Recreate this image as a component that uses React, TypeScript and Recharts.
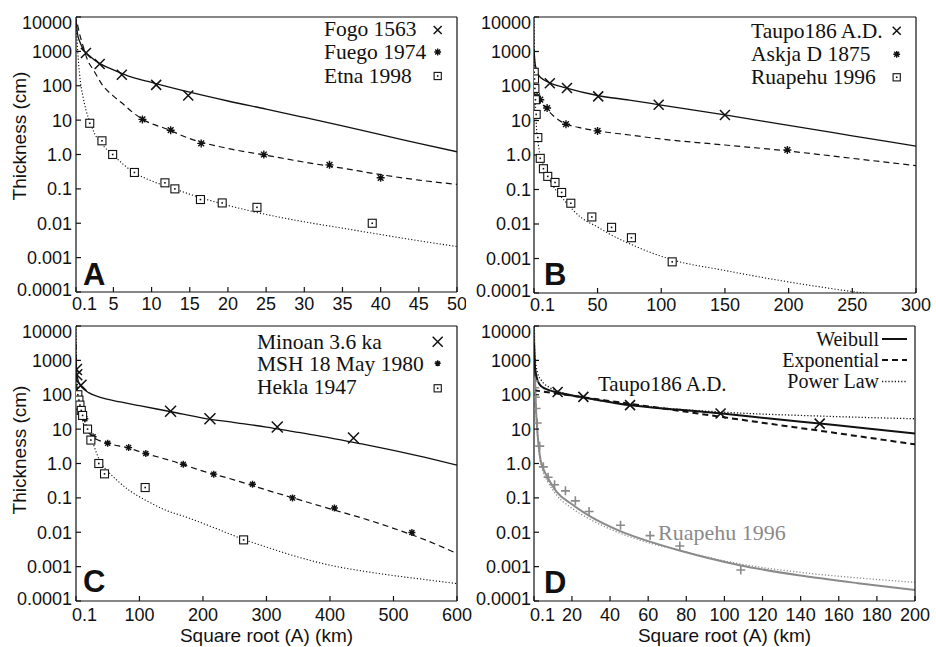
import React from "react";
import { ComposedChart, Line, Scatter, XAxis, YAxis } from "recharts";

// ---------- ticks ----------
const yTicks = [0.0001, 0.001, 0.01, 0.1, 1, 10, 100, 1000, 10000];
const yTickLabels = ["0.0001", "0.001", "0.01", "0.1", "1.0", "10", "100", "1000", "10000"];
const xTicksA = [0.1, 5, 10, 15, 20, 25, 30, 35, 40, 45, 50];
const xTicksB = [0.1, 50, 100, 150, 200, 250, 300];
const xTicksC = [0.1, 100, 200, 300, 400, 500, 600];
const xTicksD = [0.1, 20, 40, 60, 80, 100, 120, 140, 160, 180, 200];

// ---------- panel A ----------
const fogoX = [1.4, 3.2, 6.1, 10.6, 14.8];
const fogoT = [900, 430, 210, 106, 52];
const fuegoX = [8.8, 12.5, 16.5, 24.7, 33.3, 40.0];
const fuegoT = [10.5, 5.1, 2.1, 1.0, 0.5, 0.21];
const etnaX = [1.9, 3.5, 4.9, 7.75, 11.75, 13.05, 16.4, 19.25, 23.8, 38.9];
const etnaT = [8.1, 2.5, 1.0, 0.3, 0.15, 0.1, 0.049, 0.039, 0.029, 0.01];

const fogoFitX = [0.1, 0.3, 0.6, 1, 2, 3, 5, 7.5, 10, 15, 20, 25, 30, 35, 40, 45, 50];
const fogoFitT = [9000, 3200, 1900, 1200, 700, 470, 290, 175, 125, 65, 36, 21, 12, 6.8, 3.8, 2.1, 1.2];
const fuegoFitX = [0.3, 0.6, 1, 1.5, 2.5, 3.5, 5, 6, 7.5, 9, 12, 15, 20, 25, 30, 35, 40, 45, 50];
const fuegoFitT = [6000, 3000, 1500, 650, 260, 110, 50, 33, 17, 10, 5.5, 2.9, 1.5, 0.95, 0.6, 0.4, 0.26, 0.18, 0.135];
const etnaFitX = [0.1, 0.2, 0.4, 0.7, 1, 1.4, 2, 2.5, 3.5, 5, 7.5, 10, 12.5, 15, 20, 25, 30, 35, 40, 45, 50];
const etnaFitT = [10000, 3000, 600, 120, 50, 20, 8, 4.2, 2.0, 0.95, 0.32, 0.17, 0.11, 0.07, 0.033, 0.018, 0.011, 0.0072, 0.0047, 0.0031, 0.0021];

// ---------- panel B (and D) ----------
const taupoX = [12.5, 26, 50.5, 98, 150];
const taupoT = [120, 87, 50, 28.5, 14.5];
const askjaX = [2.5, 5, 10.4, 25.2, 50, 199];
const askjaT = [50, 40, 23, 7.8, 5, 1.4];
const ruapehuX = [0.3, 0.5, 0.8, 1.2, 1.8, 3.1, 5, 7.5, 10.9, 16.6, 21.8, 29, 45.5, 61, 76.6, 108.6];
const ruapehuT = [250, 160, 85, 40, 15, 3.2, 0.8, 0.4, 0.24, 0.16, 0.082, 0.04, 0.016, 0.008, 0.004, 0.0008];

const taupoFitX = [0.1, 0.5, 1, 2, 4, 8, 12, 25, 50, 75, 100, 150, 200, 250, 300];
const taupoFitT = [1200, 700, 450, 300, 200, 150, 125, 88, 53, 39, 28, 14.5, 7.2, 3.6, 1.8];
const askjaFitX = [0.1, 1, 2, 5, 10, 15, 20, 25, 35, 50, 75, 100, 150, 200, 250, 300];
const askjaFitT = [90, 60, 50, 35, 22, 14, 10, 8, 6.3, 5, 3.8, 2.9, 1.95, 1.3, 0.8, 0.49];
const ruapehuFitX = [0.1, 0.5, 1, 1.8, 3.6, 7.5, 15, 25, 37.5, 50, 60, 77, 108, 150, 180, 220, 250, 280, 300];
const ruapehuFitT = [10000, 800, 80, 9, 1.9, 0.49, 0.13, 0.043, 0.015, 0.0082, 0.005, 0.0025, 0.00093, 0.00045, 0.00028, 0.00016, 0.00011, 0.00008, 0.00006];

// ---------- panel C ----------
const minoanX = [0.8, 1.3, 8, 149, 211, 317, 437];
const minoanT = [540, 380, 190, 33, 20, 11.5, 5.5];
const mshX = [3, 14, 19, 27, 50, 83, 110, 169, 217, 278, 341, 407, 529];
const mshT = [70, 20, 10, 6, 3.9, 2.9, 1.95, 0.95, 0.49, 0.25, 0.1, 0.051, 0.0098];
const heklaX = [3, 4.7, 6.3, 8.4, 10.5, 18.3, 23.5, 36, 45, 109, 264];
const heklaT = [100, 70, 50, 35, 25, 10, 4.8, 1.0, 0.5, 0.2, 0.006];

const minoanFitX = [0.1, 1, 3, 6, 10, 20, 40, 70, 100, 150, 200, 250, 300, 350, 400, 450, 500, 550, 600];
const minoanFitT = [1200, 500, 280, 200, 160, 115, 82, 62, 48, 32, 21, 15.5, 11.5, 8, 5.6, 3.7, 2.4, 1.5, 0.9];
const mshFitX = [0.1, 1, 3, 8, 15, 25, 50, 80, 110, 150, 200, 250, 300, 350, 400, 450, 500, 550, 600];
const mshFitT = [3000, 300, 60, 22, 11, 6.3, 3.9, 2.9, 1.95, 1.2, 0.6, 0.33, 0.17, 0.09, 0.048, 0.026, 0.013, 0.006, 0.0024];
const heklaFitX = [0.1, 1, 2, 4, 7, 12, 18, 25, 32, 40, 50, 65, 85, 110, 140, 175, 220, 264, 300, 350, 400, 450, 500, 550, 600];
const heklaFitT = [10000, 700, 250, 110, 50, 22, 11, 5, 2.1, 1.0, 0.6, 0.32, 0.16, 0.085, 0.045, 0.027, 0.013, 0.0062, 0.0037, 0.0019, 0.0011, 0.00075, 0.00055, 0.00042, 0.00032];

// ---------- panel D model fits ----------
const taupoWeibullX = [0.1, 0.5, 1, 2, 4, 6, 11, 25, 50, 75, 100, 125, 150, 175, 200];
const taupoWeibullT = [3000, 800, 450, 260, 175, 150, 122, 86, 50, 37, 28, 20, 14.5, 10.5, 7.4];
const taupoExpX = [0.1, 25, 50, 75, 100, 125, 150, 175, 200];
const taupoExpT = [135, 86, 55, 35, 22, 14, 9, 5.7, 3.6];
const taupoPowX = [0.1, 0.5, 1, 2, 4, 8, 12, 25, 50, 100, 150, 200];
const taupoPowT = [12000, 1500, 800, 430, 260, 165, 130, 85, 52, 31, 24, 20];
const ruapehuModelX = [0.1, 0.5, 1, 1.6, 2.5, 3.3, 5, 7, 12, 20, 30, 45, 60, 76, 108, 140, 170, 200];
const ruapehuWeibullT = [10000, 600, 60, 14, 3.5, 1.5, 0.7, 0.42, 0.15, 0.065, 0.028, 0.011, 0.0055, 0.003, 0.0011, 0.00055, 0.00033, 0.00021];
const ruapehuPowT = [10000, 500, 50, 11, 3, 1.2, 0.55, 0.32, 0.12, 0.05, 0.023, 0.0095, 0.005, 0.003, 0.0012, 0.00068, 0.00047, 0.00035];

// ---------- styling ----------
const INK = "#111";
const GRAY = "#8a8a8a";
const SANS = "'Liberation Sans', Arial, Helvetica, sans-serif";
const SERIF = "'Liberation Serif', 'Times New Roman', serif";

type Pt = { x: number; y: number };
type Shape = (cx: number, cy: number) => React.ReactElement;
const pts = (xs: number[], ys: number[]): Pt[] => xs.map((x, i) => ({ x, y: ys[i] }));

const cross = (s: number, color = INK, w = 1.5): Shape => (cx, cy) => (
  <path
    d={`M${cx - s},${cy - s}L${cx + s},${cy + s}M${cx - s},${cy + s}L${cx + s},${cy - s}`}
    stroke={color}
    strokeWidth={w}
    fill="none"
  />
);
const star = (s: number): Shape => (cx, cy) => {
  const d = s * 0.72;
  return (
    <path
      d={`M${cx - s},${cy}H${cx + s}M${cx},${cy - s}V${cy + s}M${cx - d},${cy - d}L${cx + d},${cy + d}M${cx - d},${cy + d}L${cx + d},${cy - d}`}
      stroke={INK}
      strokeWidth={1.4}
      fill="none"
    />
  );
};
const box = (s: number): Shape => (cx, cy) => (
  <g>
    <rect x={cx - s} y={cy - s} width={2 * s} height={2 * s} fill="#fff" stroke={INK} strokeWidth={1.1} />
    <rect x={cx - 0.8} y={cy - 0.8} width={1.6} height={1.6} fill={INK} />
  </g>
);
const plus = (s: number): Shape => (cx, cy) => (
  <path d={`M${cx - s},${cy}H${cx + s}M${cx},${cy - s}V${cy + s}`} stroke={GRAY} strokeWidth={1.6} fill="none" />
);

const renderXTick = (p: any) => {
  const first = p.index === 0;
  return (
    <text
      x={first ? p.x - 4 : p.x}
      y={p.y}
      dy="0.72em"
      textAnchor={first ? "start" : "middle"}
      fontSize={18}
      fontFamily={SANS}
      fill={INK}
    >
      {String(p.payload.value)}
    </text>
  );
};

const renderYTick = (p: any) => {
  const v = p.payload.value;
  let i = 0;
  yTicks.forEach((t, k) => {
    if (Math.abs(Math.log10(t) - Math.log10(v)) < 0.01) i = k;
  });
  const shift = i === yTicks.length - 1 ? 6 : i === 0 ? -2 : 0;
  return (
    <text x={p.x} y={p.y + shift} dy="0.36em" textAnchor="end" fontSize={18} fontFamily={SANS} fill={INK}>
      {yTickLabels[i]}
    </text>
  );
};

interface Curve { data: Pt[]; stroke: string; width: number; dash?: string }
interface Marks { data: Pt[]; shape: Shape }
interface PanelProps {
  left: number; top: number; width: number; height: number;
  leftW: number; rightW: number; topH: number; bottomH: number;
  xMax: number; xTicks: number[]; yMargin: number; xMargin: number;
  curves: Curve[]; marks: Marks[];
}

function Panel(props: PanelProps) {
  const { left, top, width, height, leftW, rightW, topH, bottomH, xMax, xTicks, yMargin, xMargin, curves, marks } = props;
  const axisLine = { stroke: INK, strokeWidth: 1.2 };
  return (
    <div style={{ position: "absolute", left, top, width, height }}>
      <ComposedChart width={width} height={height} margin={{ top: 0, right: 0, bottom: 0, left: 0 }}>
        <XAxis
          xAxisId="b" dataKey="x" type="number" domain={[0.1, xMax]} ticks={xTicks} interval={0}
          allowDataOverflow height={bottomH} tickSize={-5} tickMargin={xMargin} tick={renderXTick}
          axisLine={axisLine} tickLine={axisLine}
        />
        <XAxis
          xAxisId="t" orientation="top" dataKey="x" type="number" domain={[0.1, xMax]} ticks={xTicks} interval={0}
          allowDataOverflow height={topH} tickSize={-5} tick={false} axisLine={axisLine} tickLine={axisLine}
        />
        <YAxis
          yAxisId="l" dataKey="y" type="number" scale="log" domain={[0.0001, 10000]} ticks={yTicks} interval={0}
          allowDataOverflow width={leftW} tickSize={-5} tickMargin={yMargin} tick={renderYTick}
          axisLine={axisLine} tickLine={axisLine}
        />
        <YAxis
          yAxisId="r" orientation="right" dataKey="y" type="number" scale="log" domain={[0.0001, 10000]} ticks={yTicks}
          interval={0} allowDataOverflow width={rightW} tickSize={-5} tick={false} axisLine={axisLine} tickLine={axisLine}
        />
        {curves.map((c, i) => (
          <Line
            key={"c" + i} xAxisId="b" yAxisId="l" data={c.data} dataKey="y" type="monotone"
            stroke={c.stroke} strokeWidth={c.width} strokeDasharray={c.dash} dot={false} activeDot={false}
            isAnimationActive={false}
          />
        ))}
        {marks.map((m, i) => (
          <Scatter
            key={"m" + i} xAxisId="b" yAxisId="l" data={m.data} dataKey="y"
            shape={(p: any) => m.shape(p.cx, p.cy)} isAnimationActive={false}
          />
        ))}
      </ComposedChart>
    </div>
  );
}

const solid = (data: Pt[], stroke = INK, width = 1.3): Curve => ({ data, stroke, width });
const dashed = (data: Pt[], stroke = INK, width = 1.2): Curve => ({ data, stroke, width, dash: "6 4" });
const dotted = (data: Pt[], stroke = INK, width = 1.1): Curve => ({ data, stroke, width, dash: "1.2 2" });

export default function App() {
  const legendText = { fontFamily: SERIF, fontSize: 21.5, fill: INK } as const;
  const letter = { fontFamily: SANS, fontSize: 31, fontWeight: 700, fill: INK } as const;
  const title = { fontFamily: SANS, fontSize: 19, fill: INK } as const;
  return (
    <div style={{ position: "absolute", left: 0, top: 0, width: 936, height: 647, background: "#fff" }}>
      <Panel
        left={0} top={0} width={466} height={320} leftW={76} rightW={9} topH={17} bottomH={28}
        xMax={50} xTicks={xTicksA} yMargin={9} xMargin={10}
        curves={[solid(pts(fogoFitX, fogoFitT)), dashed(pts(fuegoFitX, fuegoFitT)), dotted(pts(etnaFitX, etnaFitT))]}
        marks={[
          { data: pts(fogoX, fogoT), shape: cross(5) },
          { data: pts(fuegoX, fuegoT), shape: star(4) },
          { data: pts(etnaX, etnaT), shape: box(4) },
        ]}
      />
      <Panel
        left={466} top={0} width={470} height={320} leftW={68} rightW={20} topH={17} bottomH={27}
        xMax={300} xTicks={xTicksB} yMargin={8} xMargin={10}
        curves={[solid(pts(taupoFitX, taupoFitT)), dashed(pts(askjaFitX, askjaFitT)), dotted(pts(ruapehuFitX, ruapehuFitT))]}
        marks={[
          { data: pts(taupoX, taupoT), shape: cross(5) },
          { data: pts(askjaX, askjaT), shape: star(4) },
          { data: pts(ruapehuX, ruapehuT), shape: box(4) },
        ]}
      />
      <Panel
        left={0} top={320} width={480} height={327} leftW={76} rightW={23} topH={6} bottomH={46}
        xMax={600} xTicks={xTicksC} yMargin={9} xMargin={12}
        curves={[solid(pts(minoanFitX, minoanFitT)), dashed(pts(mshFitX, mshFitT)), dotted(pts(heklaFitX, heklaFitT))]}
        marks={[
          { data: pts(minoanX, minoanT), shape: cross(5.5) },
          { data: pts(mshX, mshT), shape: star(3.5) },
          { data: pts(heklaX, heklaT), shape: box(4) },
        ]}
      />
      <Panel
        left={466} top={320} width={470} height={327} leftW={68} rightW={21} topH={6} bottomH={46}
        xMax={200} xTicks={xTicksD} yMargin={8} xMargin={12}
        curves={[
          solid(pts(ruapehuModelX, ruapehuWeibullT), GRAY, 2),
          dotted(pts(ruapehuModelX, ruapehuPowT), GRAY, 1.3),
          dotted(pts(taupoPowX, taupoPowT), INK, 1.3),
          dashed(pts(taupoExpX, taupoExpT), INK, 2),
          solid(pts(taupoWeibullX, taupoWeibullT), INK, 2),
        ]}
        marks={[
          { data: pts(ruapehuX, ruapehuT), shape: plus(4.5) },
          { data: pts(taupoX, taupoT), shape: cross(5, INK, 1.6) },
        ]}
      />

      <svg width={936} height={647} style={{ position: "absolute", left: 0, top: 0, pointerEvents: "none" }}>
        {/* axis titles */}
        <text transform="translate(26,136) rotate(-90)" textAnchor="middle" {...title}>Thickness (cm)</text>
        <text transform="translate(26,450) rotate(-90)" textAnchor="middle" {...title}>Thickness (cm)</text>
        <text x={266.5} y={642} textAnchor="middle" {...title}>Square root (A) (km)</text>
        <text x={724.5} y={642} textAnchor="middle" {...title}>Square root (A) (km)</text>

        {/* panel letters */}
        <text x={83} y={285} {...letter}>A</text>
        <text x={544} y={285} {...letter}>B</text>
        <text x={83} y={592} {...letter}>C</text>
        <text x={544} y={593} {...letter}>D</text>

        {/* legend A */}
        <text x={324} y={36} {...legendText}>Fogo 1563</text>
        <text x={324} y={58.5} {...legendText}>Fuego 1974</text>
        <text x={324} y={82.5} {...legendText}>Etna 1998</text>
        {cross(4)(437.7, 30)}
        {star(3.4)(437.7, 52)}
        {box(3.6)(437.7, 76)}

        {/* legend B */}
        <text x={751} y={38} {...legendText}>Taupo186 A.D.</text>
        <text x={751} y={61} {...legendText}>Askja D 1875</text>
        <text x={751} y={83.5} {...legendText}>Ruapehu 1996</text>
        {cross(4)(896.7, 30.7)}
        {star(3.4)(896.7, 54.3)}
        {box(3.6)(896.7, 77.3)}

        {/* legend C */}
        <text x={257} y={349} {...legendText}>Minoan 3.6 ka</text>
        <text x={257} y={370.6} {...legendText}>MSH 18 May 1980</text>
        <text x={257} y={394} {...legendText}>Hekla 1947</text>
        {cross(5)(437.7, 341.7)}
        {star(3)(437.7, 363.3)}
        {box(3.6)(437.7, 388.3)}

        {/* legend D */}
        <text x={879} y={346} textAnchor="end" {...legendText} fontSize={20}>Weibull</text>
        <text x={879} y={367} textAnchor="end" {...legendText} fontSize={20}>Exponential</text>
        <text x={879} y={388} textAnchor="end" {...legendText} fontSize={20}>Power Law</text>
        <line x1={882} x2={907} y1={339} y2={339} stroke={INK} strokeWidth={2} />
        <line x1={882} x2={907} y1={360} y2={360} stroke={INK} strokeWidth={2} strokeDasharray="6 4" />
        <line x1={882} x2={907} y1={381.5} y2={381.5} stroke={INK} strokeWidth={1.3} strokeDasharray="1.2 2" />

        {/* panel D annotations */}
        <text x={598} y={391} {...legendText} fontSize={21}>Taupo186 A.D.</text>
        <text x={658} y={540} {...legendText} fontSize={22} fill={GRAY}>Ruapehu 1996</text>
      </svg>
    </div>
  );
}
